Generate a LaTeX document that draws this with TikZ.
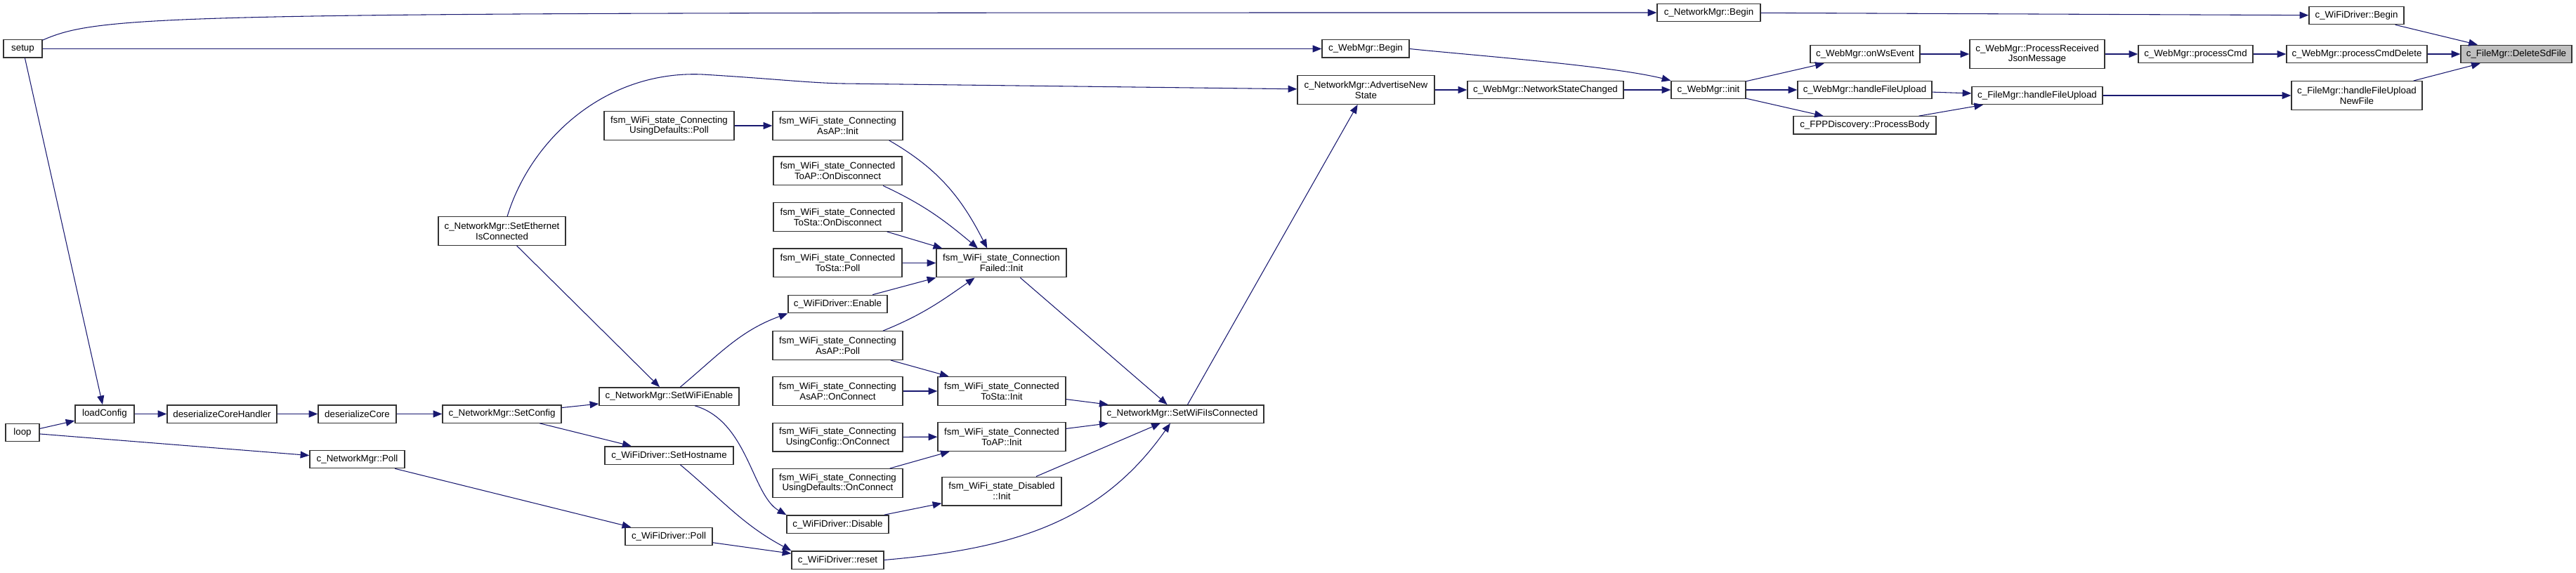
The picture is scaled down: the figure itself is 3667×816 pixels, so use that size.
\documentclass[tikz,border=0pt]{standalone}
\usepackage{fontspec}
\setmainfont{Liberation Sans}
\usepackage{tikz}
\usepackage{xcolor}
\usetikzlibrary{arrows.meta}
\definecolor{callblue}{RGB}{25,25,112}
\definecolor{boxgray}{RGB}{191,191,191}

\begin{document}
\begin{tikzpicture}[x=0.75pt,y=-0.75pt,
  fn/.style={draw=black!80,line width=1pt,fill=white,rectangle,align=center,
    font=\fontsize{10}{11}\selectfont,inner xsep=2pt,inner ysep=1pt,minimum height=19pt},
  fn2/.style={fn,minimum height=30.5pt},
  bw/.style={minimum width={#1*0.75pt}},
  call/.style={draw=callblue,line width=0.8pt,-{Triangle[length=9.5pt,width=7.5pt]}}]
  \useasboundingbox (0,0) rectangle (3667,816);
  \node[fn,bw=55] (setup) at (32.5,69.5) {setup};
  \node[fn,bw=48] (loop) at (32,616) {loop};
  \node[fn,bw=84] (loadConfig) at (149,589.5) {loadConfig};
  \node[fn,bw=156] (desCoreHandler) at (316,589.5) {deserializeCoreHandler};
  \node[fn,bw=111] (desCore) at (508.5,589.5) {deserializeCore};
  \node[fn,bw=169] (nmSetConfig) at (714.5,589.5) {c\_NetworkMgr::SetConfig};
  \node[fn,bw=135] (nmPoll) at (508.5,654) {c\_NetworkMgr::Poll};
  \node[fn2,bw=181] (nmSetEth) at (714.5,329) {c\_NetworkMgr::SetEthernet\\IsConnected};
  \node[fn,bw=199] (nmSetWiFiEnable) at (952.5,564.5) {c\_NetworkMgr::SetWiFiEnable};
  \node[fn,bw=183] (wdSetHostname) at (952.5,648.5) {c\_WiFiDriver::SetHostname};
  \node[fn,bw=124] (wdPoll) at (952,764) {c\_WiFiDriver::Poll};
  \node[fn2,bw=185] (defPoll) at (952.5,179) {fsm\_WiFi\_state\_Connecting\\UsingDefaults::Poll};
  \node[fn2,bw=185] (apInit) at (1192.5,179) {fsm\_WiFi\_state\_Connecting\\AsAP::Init};
  \node[fn2,bw=183] (toApDisc) at (1192.5,243.5) {fsm\_WiFi\_state\_Connected\\ToAP::OnDisconnect};
  \node[fn2,bw=183] (toStaDisc) at (1192.5,309) {fsm\_WiFi\_state\_Connected\\ToSta::OnDisconnect};
  \node[fn2,bw=183] (toStaPoll) at (1192.5,374.5) {fsm\_WiFi\_state\_Connected\\ToSta::Poll};
  \node[fn,bw=141] (wdEnable) at (1192.5,433) {c\_WiFiDriver::Enable};
  \node[fn2,bw=185] (apPoll) at (1192.5,492) {fsm\_WiFi\_state\_Connecting\\AsAP::Poll};
  \node[fn2,bw=185] (apConnect) at (1192.5,557) {fsm\_WiFi\_state\_Connecting\\AsAP::OnConnect};
  \node[fn2,bw=185] (cfgConnect) at (1192.5,622.5) {fsm\_WiFi\_state\_Connecting\\UsingConfig::OnConnect};
  \node[fn2,bw=185] (defConnect) at (1192.5,688) {fsm\_WiFi\_state\_Connecting\\UsingDefaults::OnConnect};
  \node[fn,bw=145] (wdDisable) at (1192.5,746.5) {c\_WiFiDriver::Disable};
  \node[fn,bw=131] (wdReset) at (1192.5,797.5) {c\_WiFiDriver::reset};
  \node[fn2,bw=185] (failInit) at (1425.5,374.5) {fsm\_WiFi\_state\_Connection\\Failed::Init};
  \node[fn2,bw=182] (toStaInit) at (1426,557) {fsm\_WiFi\_state\_Connected\\ToSta::Init};
  \node[fn2,bw=182] (toApInit) at (1426,622) {fsm\_WiFi\_state\_Connected\\ToAP::Init};
  \node[fn2,bw=170] (disInit) at (1426,699.5) {fsm\_WiFi\_state\_Disabled\\::Init};
  \node[fn,bw=232] (nmSetWiFiConn) at (1683,589.5) {c\_NetworkMgr::SetWiFiIsConnected};
  \node[fn2,bw=195] (nmAdvertise) at (1944.5,128) {c\_NetworkMgr::AdvertiseNew\\State};
  \node[fn,bw=124] (wmBegin) at (1944,69.5) {c\_WebMgr::Begin};
  \node[fn,bw=222] (wmNetChanged) at (2200,128) {c\_WebMgr::NetworkStateChanged};
  \node[fn,bw=147] (nmBegin) at (2432.5,18) {c\_NetworkMgr::Begin};
  \node[fn,bw=106] (wmInit) at (2432,128) {c\_WebMgr::init};
  \node[fn,bw=156] (wmWsEvent) at (2655,77) {c\_WebMgr::onWsEvent};
  \node[fn,bw=191] (wmUpload) at (2654.5,128) {c\_WebMgr::handleFileUpload};
  \node[fn,bw=203] (fppBody) at (2654.5,178.5) {c\_FPPDiscovery::ProcessBody};
  \node[fn2,bw=192] (wmJson) at (2900,77) {c\_WebMgr::ProcessReceived\\JsonMessage};
  \node[fn,bw=186] (fmUpload) at (2900,136) {c\_FileMgr::handleFileUpload};
  \node[fn,bw=163] (wmCmd) at (3125.5,77) {c\_WebMgr::processCmd};
  \node[fn,bw=200] (wmCmdDelete) at (3355,77) {c\_WebMgr::processCmdDelete};
  \node[fn2,bw=186] (fmNewFile) at (3355,136) {c\_FileMgr::handleFileUpload\\NewFile};
  \node[fn,bw=135] (wdBegin) at (3354.5,22) {c\_WiFiDriver::Begin};
  \node[fn,bw=158,fill=boxgray] (fmDelete) at (3582,77) {c\_FileMgr::DeleteSdFile};

  \draw[call] (setup) .. controls (150,18) and (250,18) .. (nmBegin);
  \draw[call] (setup) -- (wmBegin);
  \draw[call] (setup) -- (loadConfig);
  \draw[call] (loop) -- (loadConfig);
  \draw[call] (loop) -- (nmPoll);
  \draw[call] (loadConfig) -- (desCoreHandler);
  \draw[call] (desCoreHandler) -- (desCore);
  \draw[call] (desCore) -- (nmSetConfig);
  \draw[call] (nmSetConfig) -- (nmSetWiFiEnable);
  \draw[call] (nmSetConfig) -- (wdSetHostname);
  \draw[call] (nmPoll) -- (wdPoll);
  \draw[call] (wdPoll) -- (wdReset);
  \draw[call] (wdSetHostname) to[out=-40,in=152] (wdReset.north west);
  \draw[call] (nmSetEth) -- (nmSetWiFiEnable);
  \draw[call] (nmSetEth.70) .. controls (755,200) and (860,100) .. (1000,106)
    .. controls (1100,112) and (1150,118) .. (1200,119) -- (nmAdvertise);
  \draw[call] (nmSetWiFiEnable.40) to[out=40,in=200] (wdEnable.south west);
  \draw[call] (nmSetWiFiEnable.-20) .. controls (1065,600) and (1070,705) .. (wdDisable.north west);
  \draw[call] (defPoll) -- (apInit);
  \draw[call] (apInit.-16) to[out=-30,in=117] (failInit.134);
  \draw[call] (toApDisc.-18) to[out=-25,in=140] (failInit.148);
  \draw[call] (toStaDisc) -- (failInit.166);
  \draw[call] (toStaPoll) -- (failInit);
  \draw[call] (wdEnable) -- (failInit.south west);
  \draw[call] (apPoll.18) to[out=22,in=215] (failInit.209);
  \draw[call] (failInit.-38) -- (nmSetWiFiConn.148);
  \draw[call] (apPoll) -- (toStaInit);
  \draw[call] (apConnect) -- (toStaInit);
  \draw[call] (toStaInit) -- (nmSetWiFiConn);
  \draw[call] (cfgConnect) -- (toApInit);
  \draw[call] (defConnect) -- (toApInit);
  \draw[call] (toApInit) -- (nmSetWiFiConn);
  \draw[call] (disInit) -- (nmSetWiFiConn);
  \draw[call] (wdDisable) -- (disInit);
  \draw[call] (wdReset.east) to[out=5,in=235] (nmSetWiFiConn.218);
  \draw[call] (nmSetWiFiConn) -- (nmAdvertise);
  \draw[call] (nmAdvertise) -- (wmNetChanged);
  \draw[call] (wmNetChanged) -- (wmInit);
  \draw[call] (wmBegin.east) to[out=-6,in=166,looseness=0.6] (wmInit.north west);
  \draw[call] (wmInit) -- (wmWsEvent);
  \draw[call] (wmInit) -- (wmUpload);
  \draw[call] (wmInit) -- (fppBody);
  \draw[call] (wmWsEvent) -- (wmJson);
  \draw[call] (wmUpload) -- (fmUpload);
  \draw[call] (fppBody) -- (fmUpload);
  \draw[call] (wmJson) -- (wmCmd);
  \draw[call] (wmCmd) -- (wmCmdDelete);
  \draw[call] (wmCmdDelete) -- (fmDelete);
  \draw[call] (nmBegin) -- (wdBegin);
  \draw[call] (wdBegin) -- (fmDelete);
  \draw[call] (fmUpload) -- (fmNewFile);
  \draw[call] (fmNewFile) -- (fmDelete);
\end{tikzpicture}
\end{document}
